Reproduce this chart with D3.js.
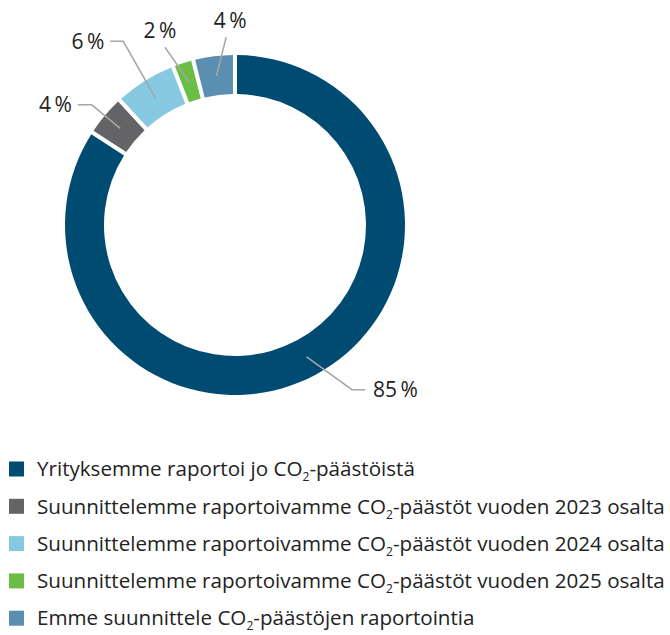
<!DOCTYPE html>
<html>
<head>
<meta charset="utf-8">
<script src="https://cdn.jsdelivr.net/npm/d3@7"></script>
<style>
	body { margin: 0; background: #fff; }
	svg { display: block; font-family: "Open Sans", sans-serif; }
</style>
</head>
<body>
<svg id="chart"></svg>
<script>
// data
var categories = [
	"Yrityksemme raportoi jo CO2-päästöistä",
	"Suunnittelemme raportoivamme CO2-päästöt vuoden 2023 osalta",
	"Suunnittelemme raportoivamme CO2-päästöt vuoden 2024 osalta",
	"Suunnittelemme raportoivamme CO2-päästöt vuoden 2025 osalta",
	"Emme suunnittele CO2-päästöjen raportointia"
];
var values = [85, 4, 6, 2, 4];
var colors = ["#004b71", "#646466", "#86c9e0", "#6cbd45", "#5a8fb1"];

// layout
var width = 670, height = 635;
var cx = 235, cy = 225;
var outerR = 170, innerR = 131;
var lineColor = "#a6a6a6";
var textColor = "#222";
// label elbows (degrees clockwise from top, radius), tail length, text placement
var labelPos = [
	{ angle: 144.6, r: 202, tail: 13, place: "right" },
	{ angle: 310.0, r: 187, tail: -14, place: "left" },
	{ angle: 328.7, r: 215, tail: -13, place: "left" },
	{ angle: 338.5, r: 191, tail: 0, place: "above", dx: -5 },
	{ angle: 357.3, r: 188, tail: 0, place: "above", dx: 4 }
];

var svg = d3.select("#chart")
	.attr("width", width)
	.attr("height", height);

var pie = d3.pie()
	.sort(null)
	.value(function(d) { return d; });

var arc = d3.arc()
	.innerRadius(innerR)
	.outerRadius(outerR)
	.padAngle(0.019);

var midArc = d3.arc()
	.innerRadius(150)
	.outerRadius(150);

var arcs = pie(values);

var g = svg.append("g")
	.attr("transform", "translate(" + cx + "," + cy + ")");

g.selectAll("path.slice")
	.data(arcs)
	.enter()
	.append("path")
	.attr("class", "slice")
	.attr("d", arc)
	.attr("fill", function(d, i) { return colors[i]; });

function polar(angleDeg, r) {
	var a = angleDeg * Math.PI / 180;
	return [r * Math.sin(a), -r * Math.cos(a)];
}

// leader lines
var labels = g.append("g").attr("class", "labels");
arcs.forEach(function(d, i) {
	var lp = labelPos[i];
	var start = midArc.centroid(d);
	var elbow = polar(lp.angle, lp.r);
	var end = [elbow[0] + lp.tail, elbow[1]];
	labels.append("polyline")
		.attr("points", [start, elbow, end].map(function(p) { return p.join(","); }).join(" "))
		.attr("fill", "none")
		.attr("stroke", lineColor)
		.attr("stroke-width", 1.5);

	var t = labels.append("text")
		.attr("fill", textColor)
		.attr("font-size", 21)
		.text(values[i] + "\u2009%");
	if (lp.place === "right") {
		t.attr("x", end[0] + 8).attr("y", end[1]).attr("dy", "0.35em").attr("text-anchor", "start");
	} else if (lp.place === "left") {
		t.attr("x", end[0] - 6).attr("y", end[1]).attr("dy", "0.35em").attr("text-anchor", "end");
	} else {
		t.attr("x", end[0] + (lp.dx || 0)).attr("y", end[1] - 9).attr("text-anchor", "middle");
	}
});

// legend
var legendTop = 469, legendStep = 37.3;
var legend = svg.append("g").attr("class", "legend");
var rows = legend.selectAll("g")
	.data(categories)
	.enter()
	.append("g")
	.attr("transform", function(d, i) { return "translate(0," + (legendTop + i * legendStep) + ")"; });

rows.append("rect")
	.attr("x", 9)
	.attr("y", -7.5)
	.attr("width", 15)
	.attr("height", 15)
	.attr("fill", function(d, i) { return colors[i]; });

rows.each(function(d) {
	var parts = d.split("CO2");
	var text = d3.select(this).append("text")
		.attr("x", 37)
		.attr("y", 0)
		.attr("dy", "0.35em")
		.attr("font-size", 20.6)
		.attr("fill", textColor);
	text.append("tspan").text(parts[0] + "CO");
	text.append("tspan").attr("font-size", 12).attr("dy", 5).text("2");
	text.append("tspan").attr("dy", -5).text(parts[1]);
});
</script>
</body>
</html>
